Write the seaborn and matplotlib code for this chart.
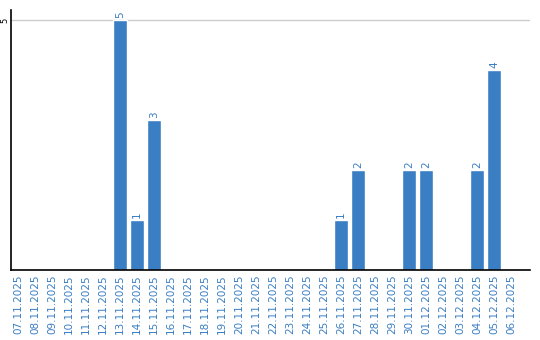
import matplotlib
matplotlib.use("Agg")
import matplotlib.pyplot as plt
import seaborn as sns
import pandas as pd

dates = ["07.11.2025", "08.11.2025", "09.11.2025", "10.11.2025", "11.11.2025",
         "12.11.2025", "13.11.2025", "14.11.2025", "15.11.2025", "16.11.2025",
         "17.11.2025", "18.11.2025", "19.11.2025", "20.11.2025", "21.11.2025",
         "22.11.2025", "23.11.2025", "24.11.2025", "25.11.2025", "26.11.2025",
         "27.11.2025", "28.11.2025", "29.11.2025", "30.11.2025", "01.12.2025",
         "02.12.2025", "03.12.2025", "04.12.2025", "05.12.2025", "06.12.2025"]
values = [0, 0, 0, 0, 0, 0, 5, 1, 3, 0, 0, 0, 0, 0, 0, 0, 0, 0, 0, 1, 2, 0, 0, 2, 2, 0, 0, 2, 4, 0]

sns.set_style("white")
plt.rcParams['font.family'] = ['DejaVu Sans']

blue = "#3a7ec3"
df = pd.DataFrame({"date": dates, "value": values})

fig = plt.figure(figsize=(5.4, 3.4), dpi=100)
ax = fig.add_axes([0.0204, 0.2059, 0.9611, 0.7647])
sns.barplot(data=df, x="date", y="value", color=blue, width=0.82, saturation=1, ax=ax)

ax.set_xlim(-0.41, 30.1)
ax.set_ylim(0, 5.2)
ax.set_yticks([5])
ax.set_yticklabels(["5"], rotation=90, va="center", fontsize=6)
ax.tick_params(axis="y", length=0, pad=1.5, colors="black")
ax.tick_params(axis="x", length=0, pad=3)
ax.set_xticks(range(len(dates)))
ax.set_xticklabels(dates, rotation=90, fontsize=7.5, color=blue)
ax.set_xlabel("")
ax.set_ylabel("")
ax.axhline(5, color="#cccccc", linewidth=1, zorder=0)

for s in ["top", "right"]:
    ax.spines[s].set_visible(False)
for s in ["left", "bottom"]:
    ax.spines[s].set_color("black")
    ax.spines[s].set_linewidth(1.2)

for i, v in enumerate(values):
    if v > 0:
        ax.text(i, v + 0.04, str(v), rotation=90, ha="center", va="bottom",
                fontsize=7.5, color=blue)

fig.savefig("out.png", dpi=100)
